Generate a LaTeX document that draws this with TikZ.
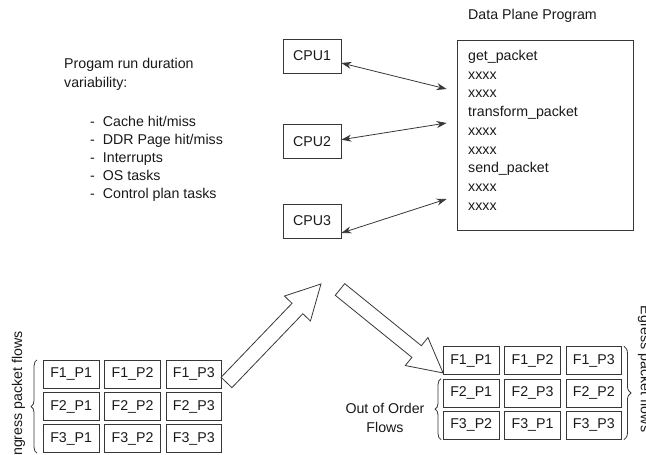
\documentclass[tikz,border=0pt]{standalone}
\usepackage{fontspec}
\setmainfont{Liberation Sans}
\usepackage{tikz}
\usetikzlibrary{arrows.meta, positioning, matrix, calc,
                decorations.pathreplacing}
\definecolor{LineGray}{RGB}{55,55,55}
\definecolor{InkGray}{RGB}{25,25,25}

\tikzset{
  cpubox/.style={draw=LineGray, line width=0.8pt, minimum width=58pt,
                 minimum height=34pt, inner sep=0pt},
  cell/.style={draw=LineGray, line width=0.8pt, minimum width=55.5pt,
               minimum height=28pt, inner sep=0pt},
  duplex/.style={LineGray, line width=0.8pt,
                 {Stealth[length=10pt,width=7pt]}-{Stealth[length=10pt,width=7pt]}},
  blockarrow/.style={draw=LineGray, line width=0.8pt, line join=miter},
  brc/.style={draw=LineGray, line width=0.8pt, decorate,
              decoration={brace, amplitude=6pt}},
  plain/.style={inner sep=0pt, text=InkGray}
}

% hollow block arrow: tail centre, angle, length
\newcommand{\flowarrow}[3]{%
  \begin{scope}[shift={#1}, rotate=#2]
    \draw[blockarrow] (0,7.5) -- ({#3-34},7.5) -- ({#3-34},18) -- (#3,0)
      -- ({#3-34},-18) -- ({#3-34},-7.5) -- (0,-7.5) -- cycle;
  \end{scope}}

\begin{document}
\begin{tikzpicture}[x=1pt, y=1pt, font=\fontsize{14.2}{18.75}\selectfont, text=InkGray]
\useasboundingbox (0,0) rectangle (646,455);

% CPUs
\node[cpubox] (cpu1) at (312,399) {CPU1};
\node[cpubox] (cpu2) at (312,313.3) {CPU2};
\node[cpubox] (cpu3) at (312,234) {CPU3};

% Data plane program
\node[draw=LineGray, line width=0.8pt, minimum width=176pt,
      minimum height=190pt] (prog) at (545,320) {};
\node[plain, anchor=west] (progtitle) at (468,439) {Data Plane Program};
\node[plain, anchor=north west, align=left] (code) at (468,405)
  {get\_packet\\xxxx\\xxxx\\transform\_packet\\xxxx\\xxxx\\send\_packet\\xxxx\\xxxx};

% CPU <-> program
\draw[duplex] ([yshift=-7pt]cpu1.east) -- ([xshift=-10pt,yshift=46pt]prog.west);
\draw[duplex] ([yshift=2pt]cpu2.east) -- ([xshift=-10pt,yshift=12pt]prog.west);
\draw[duplex] ([yshift=-12pt]cpu3.east) -- ([xshift=-10pt,yshift=-64pt]prog.west);

% Variability notes
\node[plain, anchor=north west, align=left, font=\fontsize{14.2}{19}\selectfont]
  (vartitle) at (64,396.7) {Progam run duration\\variability:};
\node[plain, anchor=north west, align=left, font=\fontsize{14.2}{18}\selectfont]
  (varlist) at (90,339)
  {-\hspace{8pt}Cache hit/miss\\-\hspace{8pt}DDR Page hit/miss\\
   -\hspace{8pt}Interrupts\\-\hspace{8pt}OS tasks\\-\hspace{8pt}Control plan tasks};

% Ingress packets
\matrix (ingress) [matrix of nodes, nodes={cell}, column sep=5pt,
                   row sep=3.5pt, inner sep=0pt] at (132.5,48.5) {
  F1\_P1 & F1\_P2 & F1\_P3\\
  F2\_P1 & F2\_P2 & F2\_P3\\
  F3\_P1 & F3\_P2 & F3\_P3\\
};
\draw[brc] ([xshift=-6pt]ingress-3-1.south west) -- ([xshift=-6pt]ingress-1-1.north west);
\node[plain, rotate=90] (inlabel) at (18.5,59.5) {Ingress packet flows};

% Egress packets
\matrix (egress) [matrix of nodes, nodes={cell}, column sep=5pt,
                  row sep=3.5pt, inner sep=0pt] at (532.5,62) {
  F1\_P1 & F1\_P2 & F1\_P3\\
  F2\_P1 & F2\_P3 & F2\_P2\\
  F3\_P2 & F3\_P1 & F3\_P3\\
};
\draw[brc, decoration={brace, amplitude=7pt}]
  ([xshift=2pt]egress-1-3.north east) -- ([xshift=2pt]egress-3-3.south east);
\draw[brc] ([xshift=-2pt]egress-3-1.south west) -- ([xshift=-2pt]egress-2-1.north west);
\node[plain, rotate=-90] (eglabel) at (644.5,86) {Egress packet flows};
\node[plain, align=center, font=\fontsize{14.2}{19}\selectfont]
  (ooo) at (385,37.5) {Out of Order\\Flows};

% Block arrows
\flowarrow{(226.5,72.5)}{46.2}{136.5}
\flowarrow{(340,165.5)}{-39}{132.6}

\end{tikzpicture}
\end{document}
